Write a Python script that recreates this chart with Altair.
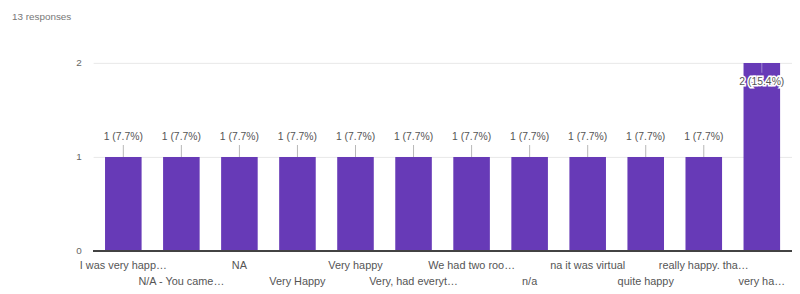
import altair as alt
import pandas as pd

categories = [
    "I was very happ…", "N/A - You came…", "NA", "Very Happy",
    "Very happy", "Very, had everyt…", "We had two roo…", "n/a",
    "na it was virtual", "quite happy", "really happy. tha…", "very ha…",
]
counts = [1, 1, 1, 1, 1, 1, 1, 1, 1, 1, 1, 2]
total_responses = 13
y_ticks = [0, 1, 2]

df = pd.DataFrame({
    "cat": categories,
    "count": counts,
    "row": [i % 2 for i in range(len(categories))],
})
df["label"] = [f"{c} ({c / total_responses * 100:.1f}%)" for c in counts]

PURPLE = "#673AB7"
FONT = "Liberation Sans"

xenc = alt.X("cat:N", sort=categories, axis=None,
             scale=alt.Scale(paddingInner=0.37, paddingOuter=0.205))
yaxis = alt.Axis(values=y_ticks, labelExpr="format(datum.value, '.0f')",
                 title=None, domain=False, ticks=False,
                 labelColor="#666", labelFontSize=10, labelPadding=12,
                 gridColor="#e8e8e8", labelFont=FONT,
                 labelOverlap=False, labelBound=False)
yenc = alt.Y("count:Q", scale=alt.Scale(domain=[0, 2], nice=False), axis=yaxis)

base = alt.Chart(df)

bars = base.mark_bar(color=PURPLE).encode(x=xenc, y=yenc)

baseline = alt.Chart(df).mark_rule(color="#444", strokeWidth=1).encode(
    y=alt.datum(0)
)

small = base.transform_filter("datum.count == 1")
big = base.transform_filter("datum.count == 2")

ticks_small = small.mark_tick(orient="vertical", size=12, thickness=1,
                              yOffset=-6, color="#999").encode(x=xenc, y=yenc)
labels_small = small.mark_text(dy=-20, baseline="middle", fontSize=10.5,
                               color="#555", font=FONT).encode(
    x=xenc, y=yenc, text="label:N")

tick_big = big.mark_tick(orient="vertical", size=10, thickness=1,
                         yOffset=5, color="#b8a6dd").encode(x=xenc, y=yenc)
halo_big = big.mark_text(dy=19, baseline="middle", fontSize=10.5, color="#ffffff",
                         stroke="#ffffff", strokeWidth=3, font=FONT).encode(
    x=xenc, y=yenc, text="label:N")
labels_big = big.mark_text(dy=19, baseline="middle", fontSize=10.5,
                           color="#555", font=FONT).encode(
    x=xenc, y=yenc, text="label:N")

xl0 = base.transform_filter("datum.row == 0").mark_text(
    baseline="middle", fontSize=11, color="#555", font=FONT).encode(
    x=xenc, y=alt.value(205), text="cat:N")
xl1 = base.transform_filter("datum.row == 1").mark_text(
    baseline="middle", fontSize=11, color="#555", font=FONT).encode(
    x=xenc, y=alt.value(221), text="cat:N")

chart = alt.layer(
    bars, baseline, ticks_small, labels_small, tick_big, halo_big, labels_big, xl0, xl1
).properties(
    width=706, height=190,
    autosize=alt.AutoSizeParams(type="none"),
    padding={"left": 86, "top": 54, "right": 0, "bottom": 40},
    title=alt.TitleParams("13 responses", anchor="start", frame="group", dx=-82,
                          offset=36, fontSize=10, fontWeight="normal",
                          color="#777", font=FONT),
).configure_view(stroke=None)

chart.save("out.html", embed_options={"renderer": "svg", "actions": False})
